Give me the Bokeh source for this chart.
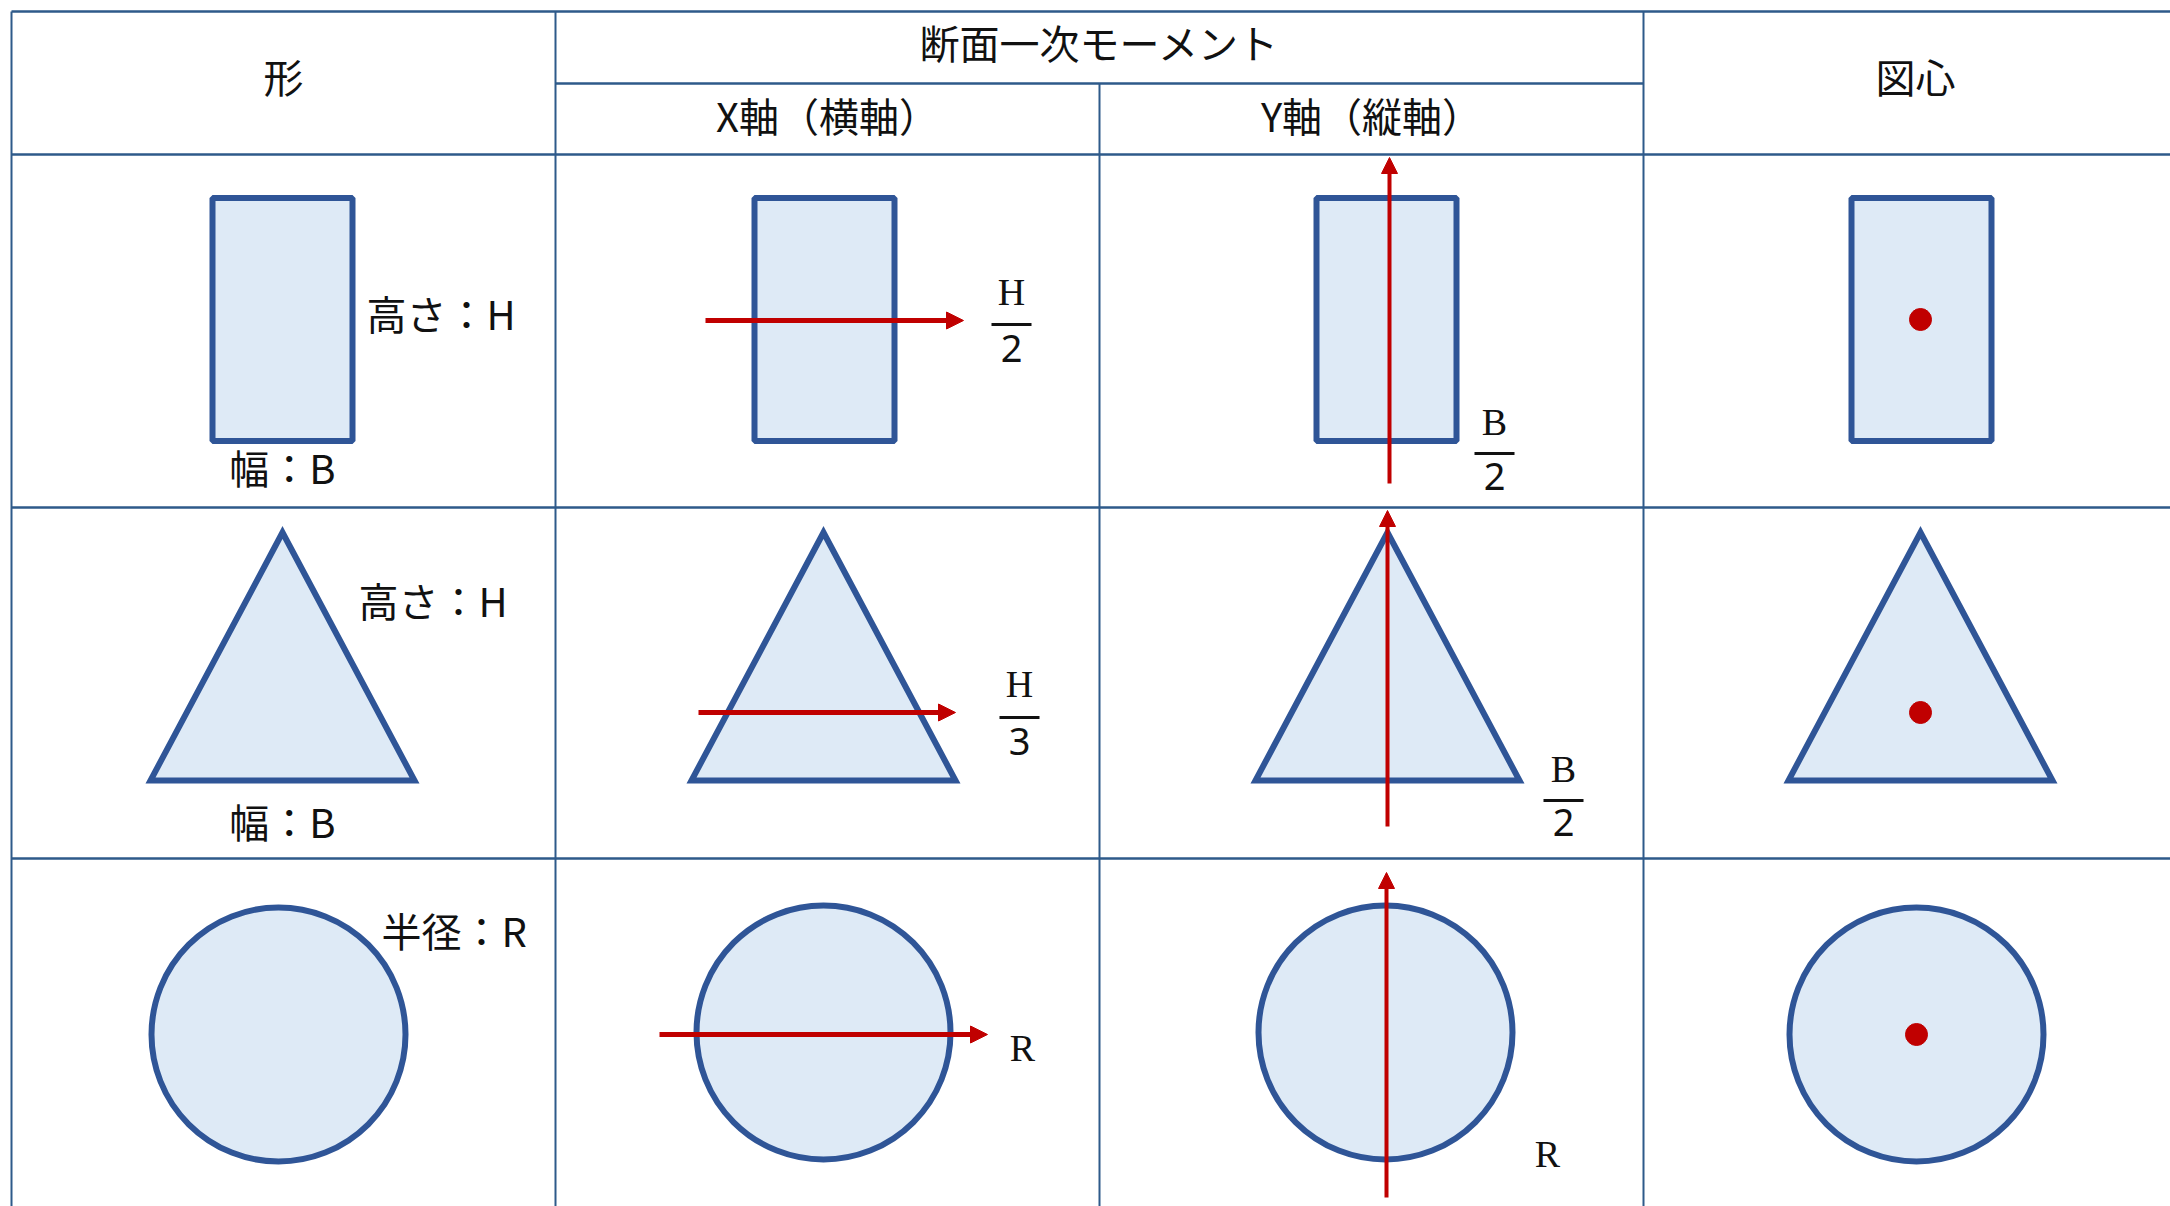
from bokeh.plotting import figure
from bokeh.models import Range1d, Arrow, NormalHead
from bokeh.core.properties import value
from bokeh.embed import file_html
from bokeh.resources import INLINE

# ---------------- table structure ----------------
col_edges = [11, 555, 1099, 1643, 2187]
table_top = 11
header_split = 83
row_edges = [154, 507, 858, 1210]

header_main = ["形", "断面一次モーメント", "図心"]
header_main_x = [283, 1099, 1915]
header_main_y = [75, 41, 75]
header_sub = ["X軸（横軸）", "Y軸（縦軸）"]
header_sub_x = [827, 1371]
header_sub_y = [114, 114]

# ---------------- shapes ----------------
rect_cx = [282, 824, 1386, 1921]
rect_cy = [319, 319, 319, 319]
rect_w = 140
rect_h = 243

tri_apex_x = [282, 823, 1387, 1920]
tri_apex_y = 532
tri_base_y = 780
tri_half = 132

circ_cx = [278, 823, 1385, 1916]
circ_cy = [1034, 1032, 1032, 1034]
circ_r = 127

# centroid dots (column 4)
dot_x = [1920, 1920, 1916]
dot_y = [319, 712, 1034]

# ---------------- axis arrows ----------------
h_arrow_x0 = [705, 698, 659]
h_arrow_x1 = [963, 955, 987]
h_arrow_y = [320, 712, 1034]
v_arrow_x = [1389, 1387, 1386]
v_arrow_y0 = [483, 826, 1197]
v_arrow_y1 = [157, 510, 872]

# ---------------- dimension labels ----------------
dim_labels = ["高さ：H", "幅：B", "高さ：H", "幅：B", "半径：R"]
dim_x = [366, 282, 358, 282, 381]
dim_y = [312, 466, 599, 820, 929]
dim_align = ["left", "center", "left", "center", "left"]

# fractions
frac_num = ["H", "B", "H", "B"]
frac_den = ["2", "2", "3", "2"]
frac_x = [1011, 1494, 1019, 1563]
frac_num_y = [291, 421, 683, 768]
frac_bar_y = [324, 453, 717, 800]
frac_den_y = [348, 476, 741, 822]
frac_half = 20

r_labels = ["R", "R"]
r_x = [1022, 1547]
r_y = [1047, 1153]

# ---------------- style ----------------
GRID = "#2E5A8A"
EDGE = "#2F5597"
FILL = "#DEEAF6"
RED = "#C00000"
INK = "#111111"
JP = value("Noto Sans CJK JP")
SERIF = value("Liberation Serif")
SANS = value("Noto Sans")

W, H = 2170, 1206
p = figure(width=W, height=H, output_backend="svg", toolbar_location=None,
           x_range=Range1d(0, W), y_range=Range1d(H, 0),
           min_border=0, background_fill_color="white", border_fill_color="white")
p.axis.visible = False
p.grid.visible = False
p.outline_line_color = None

# grid lines
left, right = col_edges[0], col_edges[-1]
hx0 = [left, col_edges[1]] + [left] * 3
hx1 = [right, col_edges[3]] + [right] * 3
hy = [table_top, header_split] + row_edges[:3]
p.segment(x0=hx0, y0=hy, x1=hx1, y1=hy, line_color=GRID, line_width=2.5)
vx = [col_edges[0], col_edges[1], col_edges[2], col_edges[3], col_edges[4]]
vy0 = [table_top, table_top, header_split, table_top, table_top]
vy1 = [row_edges[-1]] * 5
p.segment(x0=vx, y0=vy0, x1=vx, y1=vy1, line_color=GRID, line_width=2)

# rectangles
p.rect(x=rect_cx, y=rect_cy, width=rect_w, height=rect_h,
       fill_color=FILL, line_color=EDGE, line_width=6)

# triangles
tx = [[ax, ax + tri_half, ax - tri_half] for ax in tri_apex_x]
ty = [[tri_apex_y, tri_base_y, tri_base_y] for _ in tri_apex_x]
p.patches(xs=tx, ys=ty, fill_color=FILL, line_color=EDGE, line_width=6,
          line_join="miter")

# circles
p.circle(x=circ_cx, y=circ_cy, radius=circ_r, fill_color=FILL,
         line_color=EDGE, line_width=6)

# arrows
for x0, x1, y in zip(h_arrow_x0, h_arrow_x1, h_arrow_y):
    p.add_layout(Arrow(end=NormalHead(size=17, fill_color=RED, line_color=RED, line_width=1),
                       x_start=x0, y_start=y, x_end=x1, y_end=y,
                       line_color=RED, line_width=5))
for x, y0, y1 in zip(v_arrow_x, v_arrow_y0, v_arrow_y1):
    p.add_layout(Arrow(end=NormalHead(size=16, fill_color=RED, line_color=RED, line_width=1),
                       x_start=x, y_start=y0, x_end=x, y_end=y1,
                       line_color=RED, line_width=4))

# dots
p.scatter(x=dot_x, y=dot_y, size=22, marker="circle", fill_color=RED, line_color=RED)

# header text
p.text(x=header_main_x, y=header_main_y, text=header_main, text_font=JP,
       text_font_size="40px", text_align="center", text_baseline="middle", text_color=INK)
p.text(x=header_sub_x, y=header_sub_y, text=header_sub, text_font=JP,
       text_font_size="40px", text_align="center", text_baseline="middle", text_color=INK)

# dimension labels
for t, x, y, a in zip(dim_labels, dim_x, dim_y, dim_align):
    p.text(x=[x], y=[y], text=[t], text_font=JP, text_font_size="40px",
           text_align=a, text_baseline="middle", text_color=INK)

# fractions
p.text(x=frac_x, y=frac_num_y, text=frac_num, text_font=SERIF, text_font_size="38px",
       text_align="center", text_baseline="middle", text_color=INK)
p.text(x=frac_x, y=frac_den_y, text=frac_den, text_font=SANS, text_font_size="38px",
       text_align="center", text_baseline="middle", text_color=INK)
p.segment(x0=[x - frac_half for x in frac_x], y0=frac_bar_y,
          x1=[x + frac_half for x in frac_x], y1=frac_bar_y,
          line_color=INK, line_width=3)
p.text(x=r_x, y=r_y, text=r_labels, text_font=SERIF, text_font_size="38px",
       text_align="center", text_baseline="middle", text_color=INK)

open("out.html", "w").write(file_html(p, INLINE))
